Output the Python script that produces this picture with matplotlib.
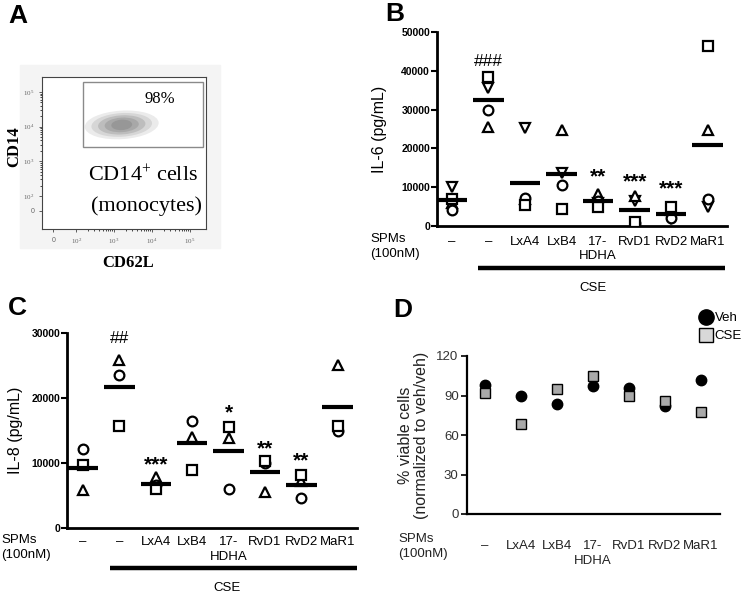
import numpy as np
import matplotlib
matplotlib.use("Agg")
import matplotlib.pyplot as plt
import matplotlib.transforms as mtransforms
from matplotlib.patches import Ellipse, Rectangle

plt.rcParams['font.family'] = ['Liberation Sans', 'DejaVu Sans']
plt.rcParams['mathtext.fontset'] = 'custom'
plt.rcParams['mathtext.rm'] = 'Liberation Serif'
plt.rcParams['mathtext.it'] = 'Liberation Serif:italic'

# ---- data ----
# panel B : IL-6 (pg/mL), one value per donor symbol
il6_groups = ['–', '–', 'LxA4', 'LxB4', '17-\nHDHA', 'RvD1', 'RvD2', 'MaR1']
il6_circle = [4100, 29900, 7300, 10600, 6400, 800, 2000, 6900]
il6_square = [7000, 38400, 5400, 4300, 5000, 1100, 4800, 46500]
il6_tri_up = [6000, 25600, 6900, 24700, 8200, 7800, 4100, 24700]
il6_tri_down = [10100, 35500, 25200, 13600, 6000, 6500, 1700, 5000]
il6_sig = ['', '###', '', '', '**', '***', '***', '']
il6_sig_y = [0, 42300, 0, 0, 14000, 12700, 11000, 0]

# panel C : IL-8 (pg/mL)
il8_groups = ['–', '–', 'LxA4', 'LxB4', '17-\nHDHA', 'RvD1', 'RvD2', 'MaR1']
il8_circle = [12170, 23500, 6550, 16500, 6060, 9970, 4630, 14960]
il8_square = [9620, 15700, 6060, 8960, 15570, 10380, 8090, 15730]
il8_tri = [5900, 25900, 7830, 13940, 13840, 5540, 7180, 25100]
il8_sig = ['', '##', '***', '', '*', '**', '**', '']
il8_sig_y = [0, 29200, 10640, 0, 18520, 13030, 11250, 0]

# panel D : % viable cells
viab_groups = ['–', 'LxA4', 'LxB4', '17-\nHDHA', 'RvD1', 'RvD2', 'MaR1']
viab_veh = [98, 90, 83.6, 97.5, 96, 82, 101.5]
viab_cse = [91.7, 68.4, 95.2, 105, 89.4, 85.6, 77.5]

# panel A : flow gate (log10 units) and population outline
gate_x = (2.18, 5.34)
gate_y = (3.42, 5.29)
cloud_center = (3.2, 4.05)
gate_pct = '98%'

W, H = 746, 597
fig = plt.figure(figsize=(W / 100, H / 100), dpi=100)


def px_axes(l, t, r, b):
    return fig.add_axes([l / W, 1 - b / H, (r - l) / W, (b - t) / H])


def letter(x, y, s):
    fig.text(x / W, 1 - y / H, s, fontsize=19, fontweight='bold', va='top', ha='left')


def dot_panel(ax, ymax, step):
    for sp in ['top', 'right']:
        ax.spines[sp].set_visible(False)
    for sp in ['left', 'bottom']:
        ax.spines[sp].set_linewidth(2.0)
    ax.set_ylim(0, ymax)
    ax.set_yticks(np.arange(0, ymax + 1, step))
    ax.tick_params(axis='y', length=4, width=1.5, labelsize=7.5, pad=1)
    for lab in ax.get_yticklabels():
        lab.set_fontweight('bold')


def sig_marks(ax, xs, marks, ys):
    for x, s, y in zip(xs, marks, ys):
        if not s:
            continue
        if s.startswith('#'):
            ax.text(x, y, s, ha='center', va='center', fontsize=12.5)
        else:
            # asterisks sit high in the glyph box, so anchor them a bit lower
            ax.text(x, y, s, ha='center', va='center', fontsize=15, fontweight='bold',
                    transform=ax.transData + mtransforms.ScaledTranslation(0, -4 / 72, fig.dpi_scale_trans))


# ---------------- panel A ----------------
fig.patches.append(Rectangle((20 / W, 1 - 248 / H), 200 / W, 183 / H,
                             transform=fig.transFigure, color='#f4f4f4', zorder=-10))
axA = px_axes(42, 77, 206, 229)
axA.set_xlim(1.1, 5.42)
axA.set_ylim(1.05, 5.43)
for sp in axA.spines.values():
    sp.set_linewidth(0.8)
    sp.set_color('#444444')
for w, h, c in [(1.95, 0.82, '#ebebeb'), (1.6, 0.68, '#d6d6d6'), (1.25, 0.55, '#bdbdbd'),
                (0.9, 0.42, '#a8a8a8'), (0.55, 0.3, '#979797')]:
    axA.add_patch(Ellipse(cloud_center, w, h, angle=4, color=c, lw=0))
axA.add_patch(Rectangle((gate_x[0], gate_y[0]), gate_x[1] - gate_x[0], gate_y[1] - gate_y[0],
                        fill=False, ec='#8a8a8a', lw=1.0))
axA.text(4.21, 4.8, gate_pct, fontsize=12, family='Liberation Serif', ha='center', va='center')
axA.text(3.75, 2.58, 'CD14$^{+}$ cells', fontsize=16, family='Liberation Serif', ha='center', va='center')
axA.text(3.85, 1.72, '(monocytes)', fontsize=16, family='Liberation Serif', ha='center', va='center')
axA.set_xticks([1.4, 2, 3, 4, 5], ['0', '$10^2$', '$10^3$', '$10^4$', '$10^5$'])
axA.set_yticks([1.57, 2, 3, 4, 5], ['0', '$10^2$', '$10^3$', '$10^4$', '$10^5$'])
minor = [np.log10(k) + d for d in (2, 3, 4) for k in range(2, 10)]
axA.set_xticks(minor, minor=True)
axA.set_yticks(minor, minor=True)
axA.tick_params(labelsize=5, labelcolor='#666666', length=2.5, width=0.6, color='#444444', pad=3)
axA.tick_params(which='minor', length=1.5, width=0.5)
fig.text(14 / W, 1 - 147 / H, 'CD14', fontsize=12, fontweight='bold', family='Liberation Serif',
         rotation=90, ha='center', va='center')
fig.text(128 / W, 1 - 263 / H, 'CD62L', fontsize=12, fontweight='bold', family='Liberation Serif',
         ha='center', va='center')
letter(8, 4, 'A')

# ---------------- panel B ----------------
axB = px_axes(437, 32, 727, 226)
xb = np.arange(len(il6_groups))
kw = dict(ls='none', mfc='white', mec='black', mew=1.6, ms=7, zorder=3)
axB.plot(xb, il6_tri_down, marker='v', **kw)
axB.plot(xb, il6_tri_up, marker='^', **kw)
axB.plot(xb, il6_circle, marker='o', **kw)
axB.plot(xb, il6_square, marker='s', **kw)
il6_mean = np.mean([il6_circle, il6_square, il6_tri_up, il6_tri_down], axis=0)
axB.hlines(il6_mean, xb - 0.42, xb + 0.42, color='black', lw=3, zorder=4)
sig_marks(axB, xb, il6_sig, il6_sig_y)
axB.set_xlim(-0.41, 7.53)
dot_panel(axB, 50000, 10000)
axB.set_xticks(xb, il6_groups)
axB.tick_params(axis='x', length=0, pad=7, labelsize=9.5)
for lab in axB.get_xticklabels():
    lab.set_linespacing(1.3)
axB.set_ylabel('IL-6 (pg/mL)', fontsize=11.5, labelpad=10)
trB = mtransforms.blended_transform_factory(axB.transData, axB.transAxes)
axB.plot([0.71, 7.48], [-0.216, -0.216], transform=trB, color='black', lw=3.2,
         solid_capstyle='butt', clip_on=False)
axB.text(3.85, -0.32, 'CSE', transform=trB, ha='center', va='center', fontsize=9.5)
fig.text(370 / W, 1 - 233 / H, 'SPMs\n(100nM)', fontsize=9.5, va='top', ha='left', linespacing=1.3)
letter(385, 2, 'B')

# ---------------- panel C ----------------
axC = px_axes(67, 333, 357, 528)
xc = np.arange(len(il8_groups))
axC.plot(xc, il8_tri, marker='^', **kw)
axC.plot(xc, il8_circle, marker='o', **kw)
axC.plot(xc, il8_square, marker='s', **kw)
il8_mean = np.mean([il8_circle, il8_square, il8_tri], axis=0)
axC.hlines(il8_mean, xc - 0.42, xc + 0.42, color='black', lw=3, zorder=4)
sig_marks(axC, xc, il8_sig, il8_sig_y)
axC.set_xlim(-0.44, 7.53)
dot_panel(axC, 30000, 10000)
axC.set_xticks(xc, il8_groups)
axC.tick_params(axis='x', length=0, pad=6, labelsize=9.5)
for lab in axC.get_xticklabels():
    lab.set_linespacing(1.3)
axC.set_ylabel('IL-8 (pg/mL)', fontsize=11.5, labelpad=6)
trC = mtransforms.blended_transform_factory(axC.transData, axC.transAxes)
axC.plot([0.74, 7.53], [-0.205, -0.205], transform=trC, color='black', lw=3.2,
         solid_capstyle='butt', clip_on=False)
axC.text(3.95, -0.31, 'CSE', transform=trC, ha='center', va='center', fontsize=9.5)
fig.text(1 / W, 1 - 534 / H, 'SPMs\n(100nM)', fontsize=9.5, va='top', ha='left', linespacing=1.3)
letter(8, 296, 'C')

# ---------------- panel D ----------------
axD = px_axes(467, 356, 720, 514)
xd = np.arange(len(viab_groups))
axD.plot(xd, viab_veh, 'o', color='black', ms=7.5, ls='none', zorder=3, label='Veh')
axD.plot(xd, viab_cse, 's', mfc='#a9a9a9', mec='black', mew=1.0, ms=7.5, ls='none', zorder=4,
         label='CSE')
axD.set_xlim(-0.5, 6.53)
axD.set_ylim(0, 120)
axD.set_yticks([0, 30, 60, 90, 120])
for sp in ['top', 'right']:
    axD.spines[sp].set_visible(False)
for sp in ['left', 'bottom']:
    axD.spines[sp].set_linewidth(1.6)
axD.tick_params(axis='y', length=4, width=1.2, labelsize=9.5, labelcolor='#333333', pad=2)
axD.set_xticks(xd, viab_groups)
axD.tick_params(axis='x', length=0, pad=19, labelsize=9.5, labelcolor='#222222')
for lab in axD.get_xticklabels():
    lab.set_linespacing(1.3)
axD.set_ylabel('% viable cells\n(normalized to veh/veh)', fontsize=11.5, labelpad=5,
               linespacing=1.15, color='#222222')
fig.text(398 / W, 1 - 533 / H, 'SPMs\n(100nM)', fontsize=9.5, va='top', ha='left', linespacing=1.3,
         color='#222222')
leg = fig.legend(loc='upper left', bbox_to_anchor=(699 / W, 1 - 312 / H), frameon=False,
                 fontsize=9.5, handletextpad=0.2, labelspacing=0.45, handlelength=1.0,
                 borderaxespad=0, borderpad=0)
leg.legend_handles[0].set_markersize(11)
leg.legend_handles[1].set_markersize(9.5)
leg.legend_handles[1].set_markerfacecolor('#d8d8d8')
letter(393, 298, 'D')

fig.savefig('out.png', dpi=100)
